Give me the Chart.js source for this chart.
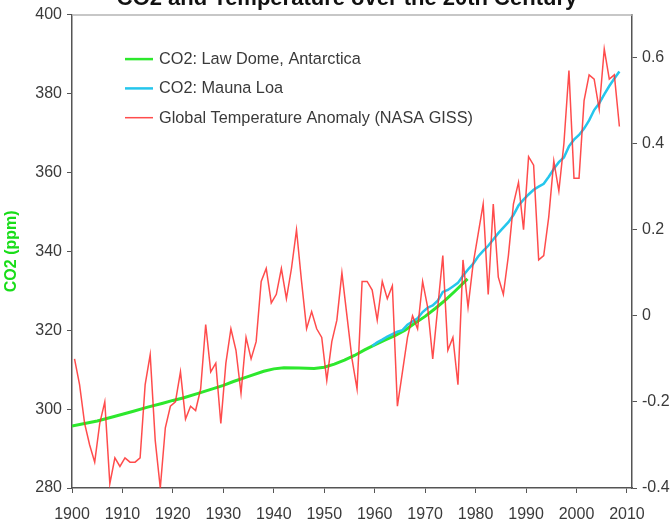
<!DOCTYPE html>
<html><head><meta charset="utf-8">
<script src="https://cdn.jsdelivr.net/npm/chart.js@4/dist/chart.umd.min.js"></script>
<style>html,body{margin:0;padding:0;background:#fff;overflow:hidden}canvas{display:block}</style>
</head><body>
<canvas id="c" width="671" height="526"></canvas>
<script>
const TITLE = 'CO2 and Temperature over the 20th Century';
const Y_LEFT_TITLE = 'CO2 (ppm)';
const X_TICKS = [1900,1910,1920,1930,1940,1950,1960,1970,1980,1990,2000,2010];
const Y_LEFT_TICKS = [280,300,320,340,360,380,400];
const Y_RIGHT_TICKS = [-0.4,-0.2,0,0.2,0.4,0.6];

const LAW_DOME_LABEL = 'CO2: Law Dome, Antarctica';
const lawDomeYears = [1900,1902,1905,1908,1910,1912,1915,1918,1920,1922,1925,1928,1930,1932,1935,1938,1940,1942,1945,1948,1950,1952,1954,1956,1958,1960,1962,1964,1966,1968,1970,1972,1974,1976,1978.4];
const lawDomeCO2   = [295.7,296.2,297.0,298.0,298.7,299.4,300.5,301.5,302.2,302.8,304.0,305.2,306.0,307.0,308.3,309.6,310.2,310.5,310.4,310.3,310.6,311.4,312.4,313.6,315.0,316.3,317.5,318.6,320.0,321.8,323.5,325.5,327.6,330.0,333.0];

const MAUNA_LOA_LABEL = 'CO2: Mauna Loa';
const maunaLoaYears = [1959,1960,1961,1962,1963,1964,1965,1966,1967,1968,1969,1970,1971,1972,1973,1974,1975,1976,1977,1978,1979,1980,1981,1982,1983,1984,1985,1986,1987,1988,1989,1990,1991,1992,1993,1994,1995,1996,1997,1998,1999,2000,2001,2002,2003,2004,2005,2006,2007,2008];
const maunaLoaCO2   = [316.0,316.9,317.6,318.4,319.0,319.6,320.0,321.4,322.2,323.0,324.6,325.7,326.3,327.5,329.7,330.2,331.1,332.0,333.8,335.4,336.8,338.7,340.1,341.4,343.0,344.6,346.0,347.4,349.2,351.6,353.1,354.4,355.6,356.4,357.1,358.9,360.9,362.6,363.8,366.6,368.3,369.5,371.1,373.2,375.8,377.5,379.8,381.9,383.8,385.6];

const TEMP_LABEL = 'Global Temperature Anomaly (NASA GISS)';
const TEMP_FIRST_YEAR = 1900;
const tempAnomaly = [
 -0.10,-0.16,-0.25,-0.30,-0.34,-0.25,-0.20,-0.39,-0.33,-0.35,
 -0.33,-0.34,-0.34,-0.33,-0.16,-0.09,-0.29,-0.40,-0.26,-0.21,
 -0.20,-0.13,-0.24,-0.21,-0.22,-0.17,-0.02,-0.13,-0.11,-0.25,
 -0.11,-0.03,-0.08,-0.18,-0.05,-0.10,-0.06, 0.08, 0.11, 0.03,
  0.05, 0.11, 0.04, 0.11, 0.20, 0.08,-0.03, 0.01,-0.03,-0.05,
 -0.15,-0.06,-0.01, 0.10, 0.00,-0.10,-0.17, 0.08, 0.08, 0.06,
 -0.01, 0.08, 0.04, 0.07,-0.21,-0.13,-0.05, 0.00,-0.03, 0.08,
  0.02,-0.10, 0.02, 0.14,-0.08,-0.05,-0.16, 0.13, 0.02, 0.12,
  0.19, 0.26, 0.05, 0.26, 0.09, 0.05, 0.14, 0.26, 0.31, 0.20,
  0.37, 0.35, 0.13, 0.14, 0.23, 0.36, 0.29, 0.40, 0.57, 0.32,
  0.32, 0.50, 0.56, 0.55, 0.48, 0.62, 0.55, 0.56, 0.44];

const MID_YEAR = 0.5; // annual values plotted at mid-year

const GREEN = '#2de82d', CYAN = '#25c6ec', RED = 'rgba(255,45,45,0.85)';
const AXIS = '#555', TXT = '#3a3a3a';
const FONT = "'Liberation Sans', Arial, sans-serif";

Chart.defaults.font.family = FONT;
Chart.defaults.font.size = 16;
Chart.defaults.color = TXT;

const greenData = lawDomeYears.map((y,i)=>({x:y, y:lawDomeCO2[i]}));
const cyanData = maunaLoaYears.map((y,i)=>({x:y+MID_YEAR, y:maunaLoaCO2[i]}));
const redData = tempAnomaly.map((v,i)=>({x:TEMP_FIRST_YEAR+i+MID_YEAR, y:v}));

const titlePlugin = {
  id:'cutTitle',
  afterDraw(chart){
    const ctx = chart.ctx; ctx.save();
    ctx.font = "bold 22px " + FONT; ctx.fillStyle = '#111';
    ctx.textAlign = 'center'; ctx.textBaseline = 'alphabetic';
    ctx.fillText(TITLE, 347, 5);
    ctx.restore();
  }
};
const framePlugin = {
  id:'frame',
  beforeDatasetsDraw(chart){
    const a = chart.chartArea, ctx = chart.ctx; ctx.save();
    ctx.strokeStyle = '#b4b4b4'; ctx.lineWidth = 1.5;
    ctx.beginPath(); ctx.moveTo(a.left, a.top+0.5); ctx.lineTo(a.right, a.top+0.5); ctx.stroke();
    ctx.restore();
  }
};
const legendPlugin = {
  id:'innerLegend',
  afterDraw(chart){
    const a = chart.chartArea, ctx = chart.ctx; ctx.save();
    ctx.font = "16.3px " + FONT; ctx.textBaseline = 'middle'; ctx.textAlign = 'left';
    const items = [0,1,2].map(i=>chart.data.datasets[i]);
    items.forEach((ds,i)=>{
      const y = a.top + 44.5 + i*29.3;
      ctx.strokeStyle = ds.borderColor; ctx.lineWidth = i===2 ? 1.5 : 2.5;
      ctx.beginPath(); ctx.moveTo(a.left+53, y); ctx.lineTo(a.left+81, y); ctx.stroke();
      ctx.fillStyle = TXT; ctx.fillText(ds.label, a.left+87, y+0.5);
    });
    ctx.restore();
  }
};

new Chart(document.getElementById('c'), {
  type:'line',
  data:{ datasets:[
    {label:LAW_DOME_LABEL, data:greenData, yAxisID:'y', borderColor:GREEN, borderWidth:3, pointRadius:0, tension:0, order:2},
    {label:MAUNA_LOA_LABEL, data:cyanData, yAxisID:'y', borderColor:CYAN, borderWidth:2.5, pointRadius:0, tension:0, order:1},
    {label:TEMP_LABEL, data:redData, yAxisID:'y2', borderColor:RED, borderWidth:1.5, pointRadius:0, tension:0, order:0}
  ]},
  options:{
    responsive:false, animation:false, devicePixelRatio:1,
    layout:{padding:{top:12,left:0,right:0,bottom:0}},
    plugins:{legend:{display:false}, title:{display:false}, tooltip:{enabled:false}},
    scales:{
      x:{type:'linear', position:'bottom', min:1900, max:2011,
        afterBuildTicks(s){ s.ticks = X_TICKS.map(v=>({value:v})); },
        afterFit(s){ s.height = 38; },
        ticks:{color:TXT, padding:12, maxRotation:0, autoSkip:false, callback:v=>String(v)},
        grid:{drawOnChartArea:false, drawTicks:true, tickLength:5, color:AXIS},
        border:{display:true, color:AXIS, width:1.5}
      },
      y:{type:'linear', position:'left', min:280, max:400,
        afterBuildTicks(s){ s.ticks = Y_LEFT_TICKS.map(v=>({value:v})); },
        afterFit(s){ s.width = 72; },
        ticks:{color:TXT, padding:5},
        grid:{drawOnChartArea:false, drawTicks:true, tickLength:5, color:AXIS},
        border:{display:true, color:AXIS, width:1.5},
        title:{display:true, text:Y_LEFT_TITLE, color:'#19dd19', font:{size:16, weight:'bold'}, padding:{top:2,bottom:0}}
      },
      y2:{type:'linear', position:'right', min:-0.4, max:0.7,
        afterBuildTicks(s){ s.ticks = Y_RIGHT_TICKS.map(v=>({value:v})); },
        afterFit(s){ s.width = 39; },
        ticks:{color:TXT, padding:5, callback:v=>(Math.abs(v)<1e-9?'0':String(+v.toFixed(1)))},
        grid:{drawOnChartArea:false, drawTicks:true, tickLength:5, color:AXIS},
        border:{display:true, color:AXIS, width:1.5}
      }
    }
  },
  plugins:[titlePlugin, framePlugin, legendPlugin]
});
</script>
</body></html>
